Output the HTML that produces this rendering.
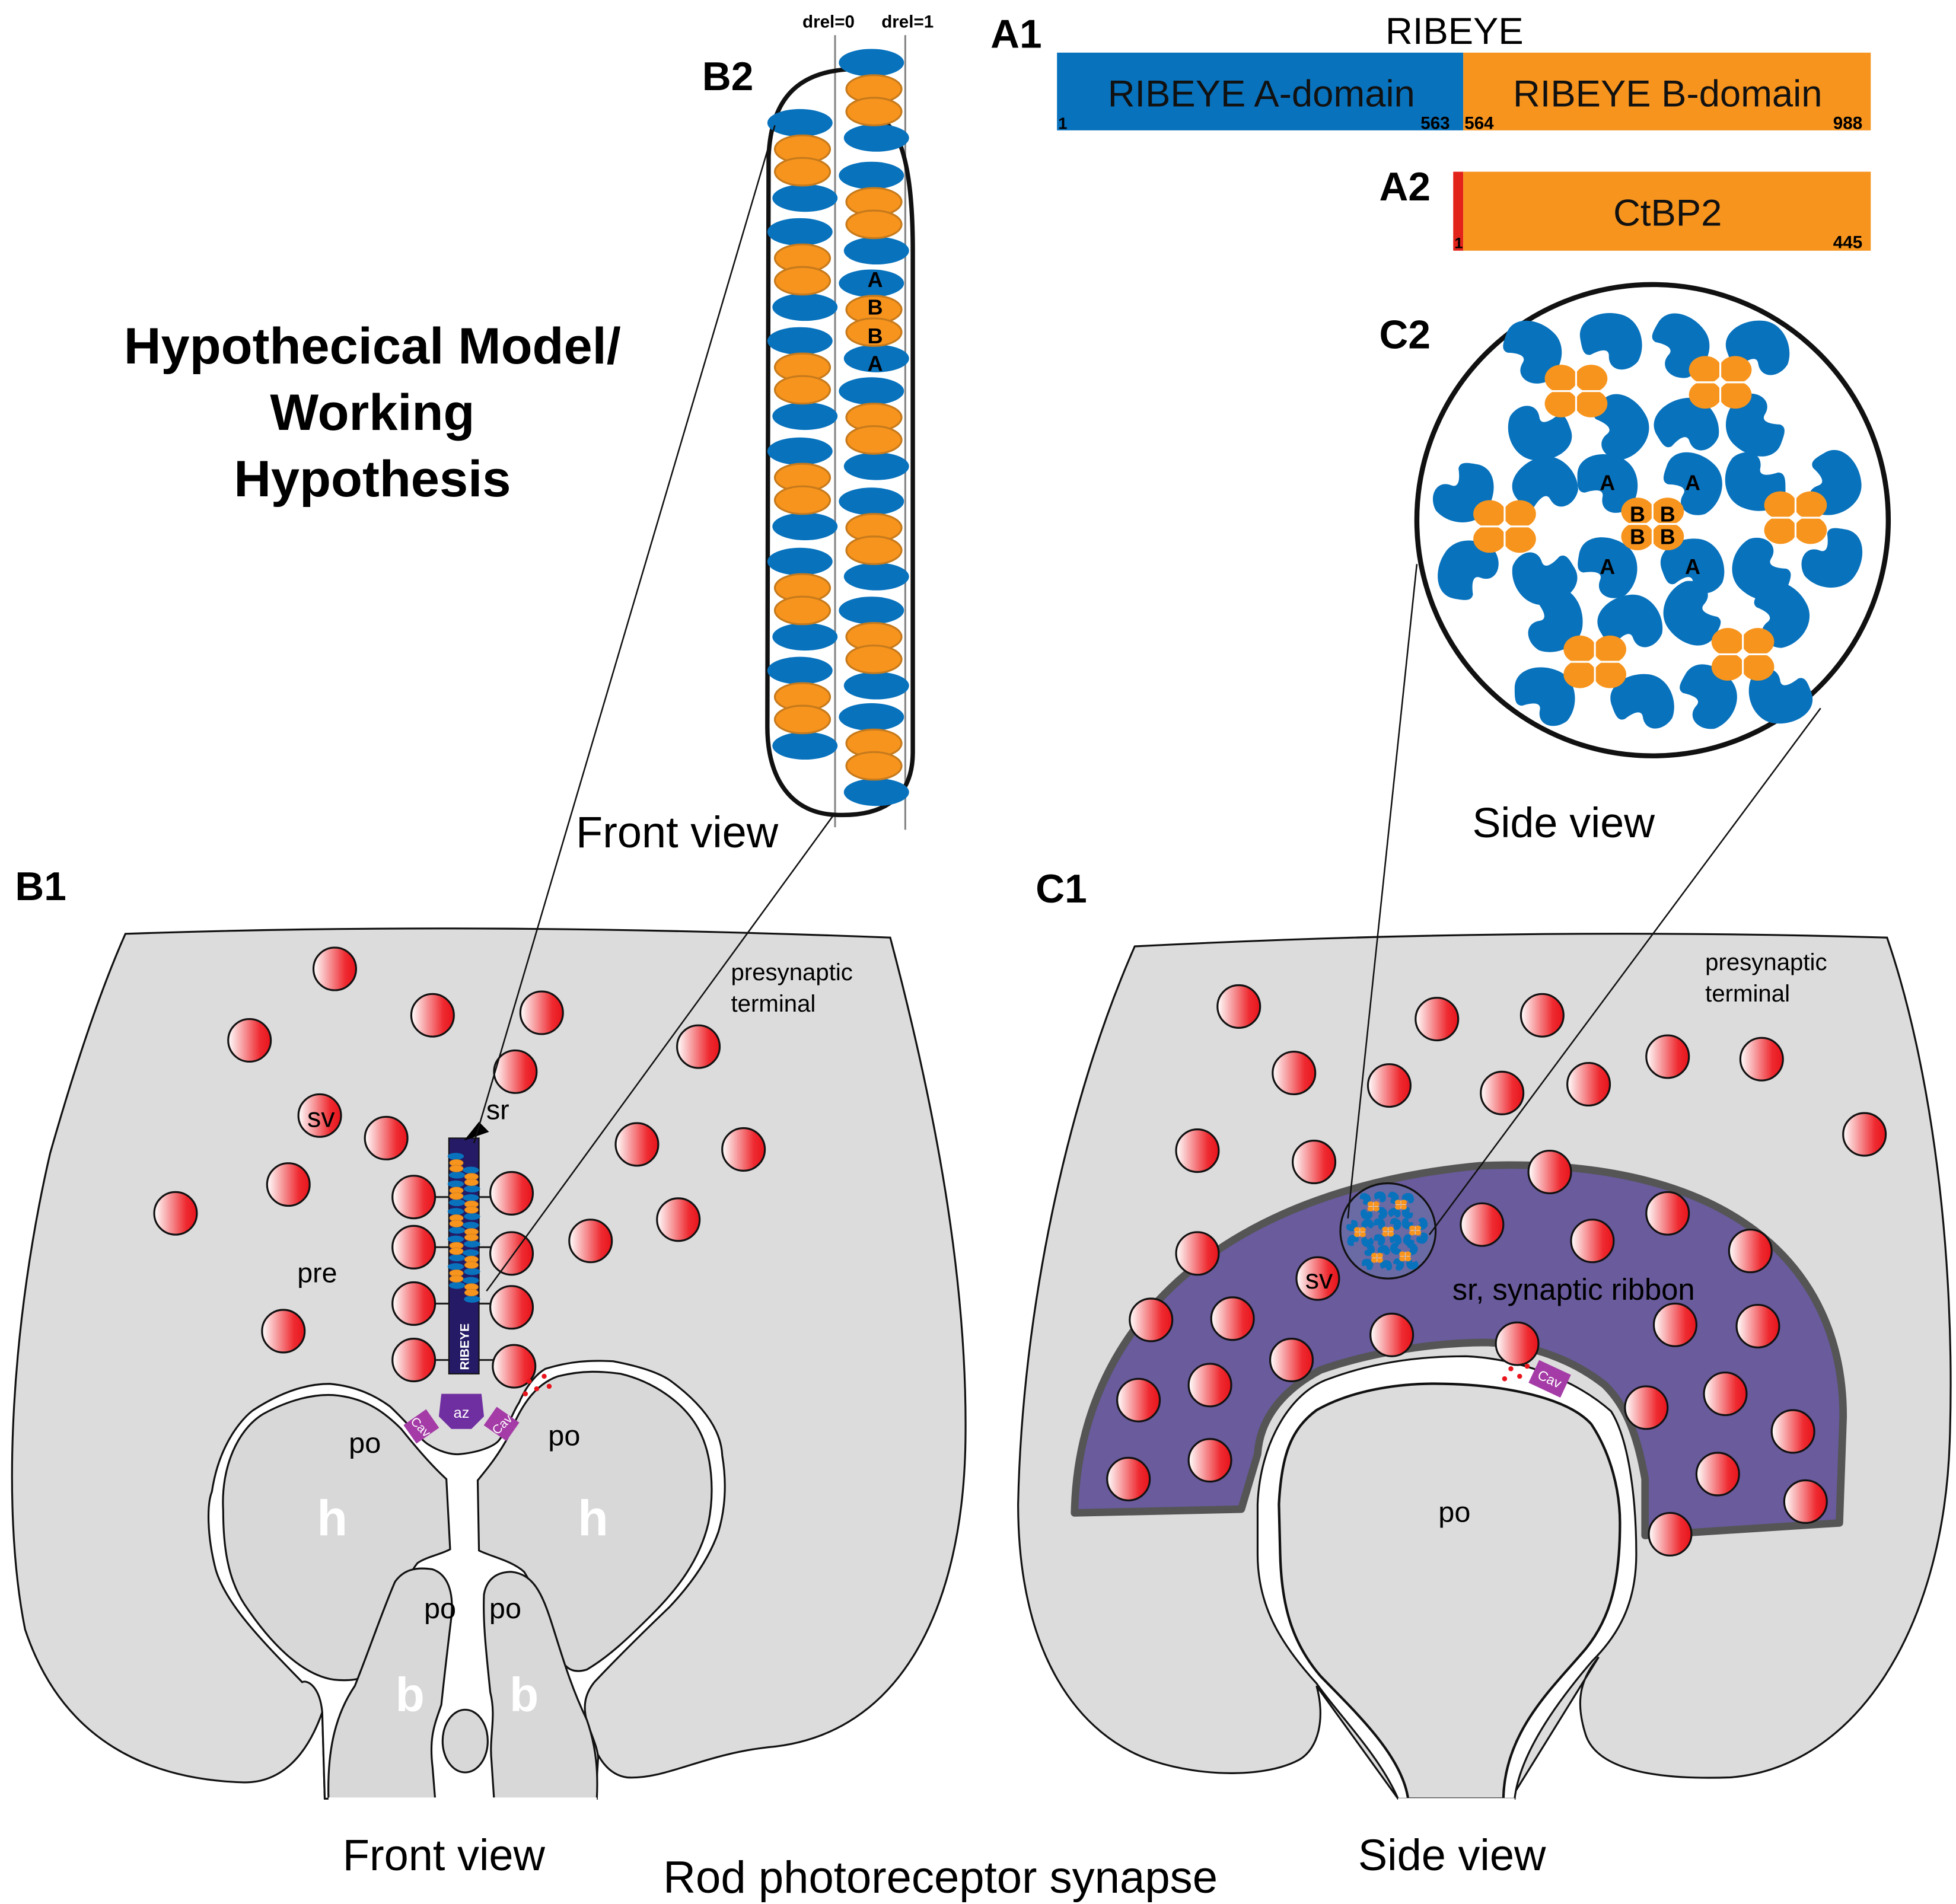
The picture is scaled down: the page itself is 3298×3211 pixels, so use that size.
<!DOCTYPE html>
<html><head><meta charset="utf-8"><style>
html,body{margin:0;padding:0;background:#fff}
svg{display:block}
text{font-family:"Liberation Sans",sans-serif}
.b{font-weight:bold}
</style></head><body>
<svg id="s" width="3298" height="3211" viewBox="0 0 1560 1519" preserveAspectRatio="none" xmlns="http://www.w3.org/2000/svg">
<defs>
<linearGradient id="ves" x1="0" y1="0" x2="1" y2="0"><stop offset="0" stop-color="#fff"/><stop offset="0.75" stop-color="#ee2a30"/><stop offset="1" stop-color="#e8141c"/></linearGradient>
</defs>

<!-- A1 -->
<text x="790" y="38" font-size="32" class="b">A1</text>
<text x="1160" y="35" font-size="30" text-anchor="middle">RIBEYE</text>
<rect x="843" y="42" width="324" height="62" fill="#0872bd"/>
<rect x="1167" y="42" width="325" height="62" fill="#f7941d"/>
<text x="1006" y="85" font-size="30" text-anchor="middle" fill="#111">RIBEYE A-domain</text>
<text x="1330" y="85" font-size="30" text-anchor="middle" fill="#111">RIBEYE B-domain</text>
<text x="844" y="103" font-size="13" class="b">1</text>
<text x="1133" y="103" font-size="14" class="b">563</text>
<text x="1168" y="103" font-size="14" class="b">564</text>
<text x="1462" y="103" font-size="14" class="b">988</text>
<!-- A2 -->
<text x="1100" y="160" font-size="32" class="b">A2</text>
<rect x="1159" y="137" width="8" height="63" fill="#e2231a"/>
<rect x="1167" y="137" width="325" height="63" fill="#f7941d"/>
<text x="1330" y="180" font-size="30" text-anchor="middle" fill="#111">CtBP2</text>
<text x="1160" y="198" font-size="12" class="b">1</text>
<text x="1462" y="198" font-size="14" class="b">445</text>

<!-- title -->
<text x="297" y="290" font-size="41" class="b" text-anchor="middle">Hypothecical Model/</text>
<text x="297" y="343" font-size="41" class="b" text-anchor="middle">Working</text>
<text x="297" y="396" font-size="41" class="b" text-anchor="middle">Hypothesis</text>

<!-- B2 -->
<text x="560" y="72" font-size="32" class="b">B2</text>
<text x="640" y="22" font-size="14" class="b">drel=0</text>
<text x="703" y="22" font-size="14" class="b">drel=1</text>
<line x1="666" y1="28" x2="666" y2="660" stroke="#888" stroke-width="1.5"/>
<line x1="722" y1="28" x2="722" y2="662" stroke="#888" stroke-width="1.5"/>
<path d="M612,580 L613,125 C615,75 640,55 685,55 M700,95 C720,100 728,140 728,200 L728,600 C728,640 700,652 665,650 C630,648 612,620 612,580" fill="none" stroke="#111" stroke-width="3.5"/>
<g id="b2"></g>
<text x="698" y="229" font-size="17" class="b" text-anchor="middle">A</text>
<text x="698" y="251" font-size="17" class="b" text-anchor="middle">B</text>
<text x="698" y="274" font-size="17" class="b" text-anchor="middle">B</text>
<text x="698" y="296" font-size="17" class="b" text-anchor="middle">A</text>
<text x="540" y="676" font-size="35" text-anchor="middle">Front view</text>

<!-- B1 -->
<text x="12" y="718" font-size="32" class="b">B1</text>
<path d="M100,745 C300,738 500,740 710,748 C745,880 772,1020 770,1150 C768,1280 720,1385 612,1394 C560,1400 530,1420 500,1418 C485,1416 477,1403 470,1385 L475,1435 L259,1435 L257,1366 C245,1400 225,1422 195,1422 C120,1420 50,1390 20,1300 C0,1200 10,1050 40,920 C60,850 80,790 100,745 Z" fill="#dcdcdc" stroke="#111" stroke-width="1.5"/>
<path d="M259,1435 L257,1366 C255,1345 245,1340 241,1342 C210,1310 180,1280 172,1252 C165,1225 165,1200 169,1190 C175,1150 195,1130 202,1125 C225,1110 245,1104 263,1104 C285,1106 300,1114 311,1122 C325,1135 335,1148 341,1152 C350,1158 360,1161 368,1160 C385,1158 395,1153 398,1149 C405,1140 408,1128 414,1119 C420,1105 428,1096 435,1092 C455,1086 470,1085 489,1086 C510,1090 525,1095 534,1101 C560,1120 575,1140 576,1161 C580,1185 578,1205 573,1222 C565,1245 550,1265 534,1282 C510,1305 490,1325 474,1342 C466,1352 465,1362 468,1373 C472,1385 477,1395 477,1403 L475,1435 Z" fill="#fff" stroke="#111" stroke-width="1.5"/>
<path d="M178,1205 C176,1170 190,1140 210,1128 C230,1117 250,1112 266,1113 C290,1115 305,1125 320,1140 C332,1155 345,1170 356,1180 L359,1236 C352,1240 340,1242 333,1247 C322,1260 316,1290 305,1325 C298,1338 285,1342 266,1340 C240,1336 215,1310 195,1280 C182,1260 178,1235 178,1205 Z" fill="#d8d8d8" stroke="#111" stroke-width="1.5"/>
<path d="M381,1181 C390,1170 398,1160 406,1145 C414,1125 425,1105 445,1098 C465,1093 480,1094 495,1096 C520,1102 545,1118 557,1140 C568,1160 570,1190 565,1215 C558,1245 540,1268 520,1288 C500,1308 485,1322 468,1332 C455,1336 448,1330 443,1312 C435,1290 428,1270 418,1254 C408,1245 392,1242 382,1237 Z" fill="#d8d8d8" stroke="#111" stroke-width="1.5"/>
<path d="M262,1435 C261,1400 266,1370 283,1345 C295,1315 305,1285 315,1262 C322,1252 332,1250 345,1252 C357,1256 362,1270 360,1290 C357,1315 354,1340 352,1360 C347,1375 342,1385 345,1410 L347,1435 Z" fill="#d8d8d8" stroke="#111" stroke-width="1.5"/>
<path d="M394,1435 L392,1405 C390,1385 396,1370 391,1350 C388,1320 385,1295 386,1272 C388,1260 396,1254 408,1254 C425,1256 432,1270 440,1295 C448,1320 455,1345 468,1372 C476,1395 477,1415 476,1435 Z" fill="#d8d8d8" stroke="#111" stroke-width="1.5"/>
<ellipse cx="371" cy="1389" rx="18" ry="25" fill="#d8d8d8" stroke="#111" stroke-width="1.5"/>
<line x1="262" y1="1435" x2="476" y2="1435" stroke="#fff" stroke-width="2"/>
<text x="265" y="1225" font-size="40" class="b" fill="#fff" text-anchor="middle">h</text>
<text x="473" y="1225" font-size="40" class="b" fill="#fff" text-anchor="middle">h</text>
<text x="327" y="1365" font-size="38" class="b" fill="#fff" text-anchor="middle">b</text>
<text x="418" y="1365" font-size="38" class="b" fill="#fff" text-anchor="middle">b</text>
<text x="291" y="1159" font-size="23" text-anchor="middle">po</text>
<text x="450" y="1153" font-size="23" text-anchor="middle">po</text>
<text x="351" y="1291" font-size="23" text-anchor="middle">po</text>
<text x="403" y="1291" font-size="23" text-anchor="middle">po</text>
<g stroke="#222" stroke-width="1.5">
<line x1="345" y1="955" x2="395" y2="955"/><line x1="345" y1="995" x2="395" y2="995"/>
<line x1="345" y1="1040" x2="395" y2="1040"/><line x1="345" y1="1085" x2="398" y2="1085"/>
</g>
<rect x="358" y="908" width="24" height="188" fill="#241a66" stroke="#111" stroke-width="1"/>
<g id="rb"></g>
<text transform="translate(374,1093) rotate(-90)" font-size="10" class="b" fill="#fff">RIBEYE</text>
<path d="M352,1112 L384,1112 L386,1130 L376,1140 L360,1140 L350,1130 Z" fill="#702fa0"/>
<text x="368" y="1131" font-size="12" fill="#fff" text-anchor="middle">az</text>
<g transform="translate(336,1138) rotate(-35)"><rect x="-11" y="-9" width="22" height="18" fill="#a43ba6"/><text x="0" y="4" font-size="10" fill="#fff" text-anchor="middle" transform="rotate(80)">Cav</text></g>
<g transform="translate(400,1136) rotate(35)"><rect x="-11" y="-9" width="22" height="18" fill="#a43ba6"/><text x="0" y="4" font-size="10" fill="#fff" text-anchor="middle" transform="rotate(-80)">Cav</text></g>
<path d="M382,895 L370,910 L390,903 Z" fill="#000"/>
<text x="397" y="893" font-size="22" text-anchor="middle">sr</text>
<g id="v1"></g>
<text x="256" y="899" font-size="22" text-anchor="middle">sv</text>
<text x="253" y="1023" font-size="22" text-anchor="middle">pre</text>
<text x="583" y="782" font-size="19">presynaptic</text>
<text x="583" y="807" font-size="19">terminal</text>
<line x1="618" y1="100" x2="378" y2="912" stroke="#111" stroke-width="1.2"/>
<line x1="665" y1="650" x2="388" y2="1030" stroke="#111" stroke-width="1.2"/>

<!-- C2 -->
<text x="1100" y="278" font-size="32" class="b">C2</text>
<circle cx="1318" cy="415" r="188" fill="#fff" stroke="#111" stroke-width="4"/>
<g id="c2"></g>
<text x="1247" y="668" font-size="34" text-anchor="middle">Side view</text>

<!-- C1 -->
<text x="826" y="720" font-size="32" class="b">C1</text>
<path d="M905,755 C1100,745 1300,742 1505,748 C1540,850 1560,1000 1555,1150 C1550,1300 1480,1410 1380,1418 C1320,1420 1275,1412 1265,1385 C1255,1355 1262,1338 1275,1322 L1205,1435 L1115,1435 L1050,1345 C1057,1370 1052,1395 1036,1404 C1010,1418 960,1418 920,1405 C860,1385 812,1320 812,1200 C815,1050 850,880 905,755 Z" fill="#dcdcdc" stroke="#111" stroke-width="1.5"/>
<path d="M857,1207 C860,1060 970,950 1180,930 C1380,922 1470,1010 1470,1130 L1467,1215 L1312,1225 L1312,1180 C1305,1140 1295,1120 1280,1105 C1255,1085 1220,1072 1186,1071 C1140,1071 1090,1080 1053,1093 C1025,1108 1005,1130 1003,1160 L990,1204 Z" fill="#695b9c" stroke="#555" stroke-width="6" stroke-linejoin="round"/>
<path d="M1115,1435 C1100,1400 1065,1365 1050,1343 C1020,1310 1003,1280 1003,1240 L1003,1200 C1005,1150 1030,1110 1060,1100 C1100,1085 1140,1082 1169,1082 C1200,1083 1250,1095 1285,1126 C1300,1150 1305,1200 1305,1240 C1305,1280 1290,1305 1270,1325 C1240,1360 1212,1400 1208,1435 Z" fill="#fff" stroke="#111" stroke-width="1.5"/>
<path d="M1123,1435 C1118,1400 1080,1365 1053,1337 C1030,1310 1022,1280 1021,1240 L1020,1200 C1022,1160 1030,1140 1050,1125 C1080,1108 1120,1103 1152,1104 C1200,1105 1250,1115 1269,1136 C1285,1160 1292,1190 1292,1215 C1292,1260 1285,1290 1265,1315 C1240,1345 1200,1380 1199,1435 Z" fill="#dcdcdc" stroke="#111" stroke-width="2"/>
<line x1="1115" y1="1436" x2="1208" y2="1436" stroke="#fff" stroke-width="3"/>
<text x="1160" y="1214" font-size="23" text-anchor="middle">po</text>
<g transform="translate(1236,1100) rotate(25)"><rect x="-14" y="-10" width="28" height="20" fill="#a43ba6"/><text x="0" y="4" font-size="11" fill="#fff" text-anchor="middle">Cav</text></g>
<g id="v2"></g>
<text x="1052" y="1028" font-size="22" text-anchor="middle">sv</text>
<circle cx="1107" cy="982" r="38" fill="#6a6aa5" stroke="#111" stroke-width="1.5"/>
<g id="sc"></g>
<text x="1255" y="1037" font-size="24" text-anchor="middle">sr, synaptic ribbon</text>
<text x="1360" y="774" font-size="19">presynaptic</text>
<text x="1360" y="799" font-size="19">terminal</text>
<line x1="1130" y1="450" x2="1075" y2="972" stroke="#111" stroke-width="1.2"/>
<line x1="1452" y1="565" x2="1140" y2="985" stroke="#111" stroke-width="1.2"/>

<g font-weight="bold" font-size="17" text-anchor="middle">
<text x="1282" y="391">A</text><text x="1350" y="391">A</text>
<text x="1282" y="458">A</text><text x="1350" y="458">A</text>
<text x="1306" y="416">B</text><text x="1330" y="416">B</text>
<text x="1306" y="434">B</text><text x="1330" y="434">B</text>
</g>

<text x="354" y="1492" font-size="35" text-anchor="middle">Front view</text>
<text x="750" y="1510" font-size="36" text-anchor="middle">Rod photoreceptor synapse</text>
<text x="1158" y="1492" font-size="35" text-anchor="middle">Side view</text>
</svg>
<script>
var NS="http://www.w3.org/2000/svg";
function el(p,t,a){var e=document.createElementNS(NS,t);for(var k in a)e.setAttribute(k,a[k]);var P=document.getElementById(p);P.appendChild(e);return e;}
var BL="#0872bd",OR="#f7941d";
function unit(p,cx,cy,s){
 s=s||1;
 el(p,"ellipse",{cx:cx-2*s,cy:cy-30*s,rx:26*s,ry:11*s,fill:BL});
 el(p,"ellipse",{cx:cx+2*s,cy:cy+30*s,rx:26*s,ry:11*s,fill:BL});
 el(p,"ellipse",{cx:cx,cy:cy-9*s,rx:22*s,ry:11*s,fill:OR,stroke:"#c67a1c","stroke-width":1.5*s});
 el(p,"ellipse",{cx:cx,cy:cy+9*s,rx:22*s,ry:11*s,fill:OR,stroke:"#c67a1c","stroke-width":1.5*s});
}
[128,215,302,390,478,565].forEach(function(y){unit("b2",640,y);});
[80,170,256,342,430,517,602].forEach(function(y){unit("b2",697,y);});
for(var i=0;i<5;i++){unit("rb",364,930+i*22,0.25);unit("rb",376,941+i*22,0.25);}
function ves(p,x,y){el(p,"circle",{cx:x,cy:y,r:17,fill:"url(#ves)",stroke:"#111","stroke-width":1.5});}
[[267,773],[345,810],[432,808],[199,830],[557,835],[411,855],[255,890],[308,908],[508,913],[593,917],[230,945],[140,968],[330,955],[408,952],[541,973],[471,990],[330,995],[408,1000],[330,1040],[408,1043],[226,1062],[330,1085],[410,1090]].forEach(function(v){ves("v1",v[0],v[1]);});
[[988,803],[1146,813],[1230,810],[1032,856],[1108,866],[1198,872],[1267,865],[1330,843],[1405,845],[1487,905],[955,918],[1048,927],[1236,935],[1182,977],[1270,990],[1330,968],[1396,998],[955,1000],[1051,1020],[918,1053],[983,1052],[1336,1057],[1402,1058],[1030,1085],[1110,1065],[1210,1072],[965,1105],[908,1117],[1376,1112],[1313,1123],[1430,1142],[965,1165],[900,1180],[1370,1176],[1440,1198],[1332,1224]].forEach(function(v){ves("v2",v[0],v[1]);});
[[422,1102],[428,1108],[434,1098],[419,1112],[438,1106]].forEach(function(d){el("v1","circle",{cx:d[0],cy:d[1],r:2,fill:"#e8141c"});});
[[1205,1092],[1212,1098],[1200,1100],[1218,1090]].forEach(function(d){el("v2","circle",{cx:d[0],cy:d[1],r:2,fill:"#e8141c"});});
function blob(p,x,y,r,s){var g=el(p,"g",{transform:"translate("+x+","+y+") rotate("+r+") scale("+s+")"});
 var e=document.createElementNS(NS,"path");e.setAttribute("d","M-24,-6 C-24,-22 -4,-26 10,-20 C26,-14 28,8 18,20 C8,28 -6,24 -4,12 C-2,4 -12,6 -18,8 C-24,8 -24,2 -24,-6 Z");e.setAttribute("fill",BL);g.appendChild(e);}
var bl=[[1222,280,20],[1285,272,-10],[1340,275,30],[1402,278,-20],[1228,345,160],[1292,340,40],[1345,340,-30],[1400,340,200],[1168,393,100],[1232,387,-40],[1282,385,0],[1350,385,20],[1400,385,180],[1462,385,60],[1170,455,-80],[1232,460,150],[1282,452,10],[1350,452,-20],[1405,455,200],[1462,445,100],[1240,495,70],[1300,497,-30],[1350,490,210],[1420,490,40],[1232,555,0],[1310,560,-20],[1362,555,30],[1420,555,160]];
bl.forEach(function(b){blob("c2",b[0],b[1],b[2],1);});
function cross(p,x,y,s){[[-1,-1],[1,-1],[-1,1],[1,1]].forEach(function(q){el(p,"ellipse",{cx:x+q[0]*12*s,cy:y+q[1]*10*s,rx:13*s,ry:11*s,fill:OR});});
 el(p,"line",{x1:x-24*s,y1:y,x2:x+24*s,y2:y,stroke:"#fff","stroke-width":1.5*s});el(p,"line",{x1:x,y1:y-20*s,x2:x,y2:y+20*s,stroke:"#fff","stroke-width":1.5*s});}
var cr=[[1257,312],[1372,305],[1200,420],[1432,413],[1272,528],[1390,522],[1318,418]];
cr.forEach(function(c){cross("c2",c[0],c[1],1);});
bl.forEach(function(b){blob("sc",1107+(b[0]-1318)*0.19,982+(b[1]-415)*0.19,b[2],0.19);});
cr.forEach(function(c){cross("sc",1107+(c[0]-1318)*0.19,982+(c[1]-415)*0.19,0.19);});
</script>
</body></html>
